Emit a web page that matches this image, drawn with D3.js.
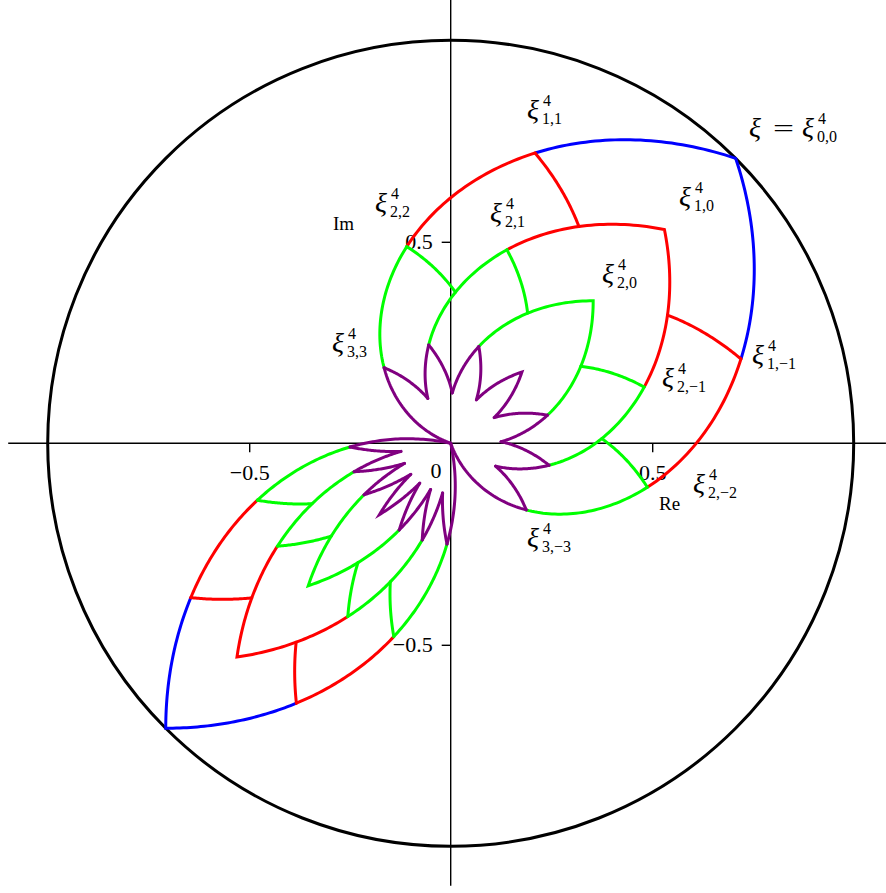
<!DOCTYPE html>
<html>
<head>
<meta charset="utf-8">
<script src="https://cdn.jsdelivr.net/npm/d3@7"></script>
<style>
  html, body { margin: 0; padding: 0; background: #fff; }
  svg { display: block; }
  text { font-family: "Liberation Serif", "DejaVu Serif", serif; fill: #000; }
</style>
</head>
<body>
<svg id="chart" width="886" height="893"></svg>
<script>
// ---------------- data ----------------
// modulus of the points on each level k = 0..4 (level 4 is the origin)
const levelRadii = [1, 0.75, 0.5, 0.25, 0];
// the two "flowers": direction of the lens tip (degrees) and angular step per index j
const flowerTips = [45, 225];
const flowerSteps = [28.8, 14.3];
// colours per level (blue, red, green, purple)
const levelColors = ["#0000ff", "#ff0000", "#00ff00", "#800080"];
// axis ticks
const xTicks = [-0.5, 0.5];
const yTicks = [-0.5, 0.5];
// point labels ξ^4_{k,j}
const labelSubs = ["1,1", "1,0", "1,\u22121", "2,2", "2,1", "2,0", "2,\u22121", "2,\u22122", "3,3", "3,\u22123"];
const labelSup = "4";

// ---------------- layout ----------------
const W = 886, H = 893;
const cx = 450.7, cy = 443.3, R = 403;
const x = d3.scaleLinear().domain([-1, 1]).range([cx - R, cx + R]);
const y = d3.scaleLinear().domain([-1, 1]).range([cy + R, cy - R]);

// label anchor boxes (left of ξ glyph, top of ξ glyph) in pixels
const labelPos = [
  [527, 100], [679, 187], [752, 345], [375, 193], [490, 203],
  [602, 264], [662, 368], [693, 474], [332, 333], [527, 528]
];

const svg = d3.select("#chart");
svg.append("rect").attr("width", W).attr("height", H).attr("fill", "#fff");

// axes lines
const gAx = svg.append("g");
gAx.append("line")
  .attr("x1", x(-1.098)).attr("x2", x(1.08))
  .attr("y1", y(0)).attr("y2", y(0))
  .attr("stroke", "#000").attr("stroke-width", 1.4);
gAx.append("line")
  .attr("x1", x(0)).attr("x2", x(0))
  .attr("y1", y(1.1)).attr("y2", y(-1.098))
  .attr("stroke", "#000").attr("stroke-width", 1.4);

const fmt = d => d3.format(".1f")(d);
const xAxis = svg.append("g")
  .attr("transform", `translate(0,${y(0)})`)
  .call(d3.axisBottom(x).tickValues(xTicks).tickSize(9).tickPadding(12).tickFormat(fmt));
const yAxis = svg.append("g")
  .attr("transform", `translate(${x(0)},0)`)
  .call(d3.axisLeft(y).tickValues(yTicks).tickSize(9).tickPadding(9).tickFormat(fmt));
[xAxis, yAxis].forEach(g => {
  g.select(".domain").remove();
  g.selectAll(".tick line").attr("stroke", "#000").attr("stroke-width", 1.4);
  g.selectAll(".tick text")
    .attr("font-family", "'Liberation Serif', serif")
    .attr("font-size", 22).attr("fill", "#000");
});
svg.append("text").attr("x", 436).attr("y", 478)
  .attr("text-anchor", "middle").attr("font-size", 22).text("0");

svg.append("text").attr("x", 333).attr("y", 230).attr("font-size", 19).text("Im");
svg.append("text").attr("x", 659).attr("y", 510).attr("font-size", 19).text("Re");

// unit circle
svg.append("circle")
  .attr("cx", x(0)).attr("cy", y(0)).attr("r", x(1) - x(0))
  .attr("fill", "none").attr("stroke", "#000").attr("stroke-width", 3);

// ---------------- curves ----------------
function radiusAt(s) {
  const i = Math.min(Math.floor(s), levelRadii.length - 2);
  const t = s - i;
  return levelRadii[i] * (1 - t) + levelRadii[i + 1] * t;
}
function pt(f, s, a) {
  const r = radiusAt(s);
  const th = (flowerTips[f] + flowerSteps[f] * a) * Math.PI / 180;
  return [r * Math.cos(th), r * Math.sin(th)];
}
// a path is a list of (s,a) nodes; each piece between nodes is a polar-linear curve
function sampleNodes(f, nodes) {
  const out = [];
  const N = 40;
  for (let n = 0; n < nodes.length - 1; n++) {
    const [s0, a0] = nodes[n], [s1, a1] = nodes[n + 1];
    for (let i = (n === 0 ? 0 : 1); i <= N; i++) {
      const t = i / N;
      out.push(pt(f, s0 + (s1 - s0) * t, a0 + (a1 - a0) * t));
    }
  }
  return out;
}
const line = d3.line().x(d => x(d[0])).y(d => y(d[1]));

const paths = [];
for (let f = 0; f < flowerTips.length; f++) {
  for (let m = 0; m < 4; m++) {
    // inner lenses stop half-way on the last (purple) level
    const sEnd = (m === 0) ? 4 : 3.5;
    const h = Math.min(1, sEnd - m);
    // the tip of lens m (two arcs meeting at a corner)
    paths.push({ f, level: m, nodes: [[m + h, h], [m, 0], [m + h, -h]], join: true });
    // the rest of the two sides of lens m
    for (let s = m + 1; s < 4; s++) {
      const e = Math.min(s + 1, sEnd);
      paths.push({ f, level: s, nodes: [[s, s - m], [e, e - m]] });
      paths.push({ f, level: s, nodes: [[s, -(s - m)], [e, -(e - m)]] });
    }
  }
  // short connectors from each point ξ_{k,j} (j ≠ 0) to the next lens inside
  for (let k = 1; k < 4; k++) {
    for (let j = -k; j <= k; j++) {
      if (j === 0) continue;
      const sg = Math.sign(j);
      paths.push({ f, level: k, nodes: [[k, j], [k + 0.5, j - sg * 0.5]] });
    }
  }
}

svg.append("g").selectAll("path")
  .data(paths)
  .join("path")
  .attr("d", d => line(sampleNodes(d.f, d.nodes)))
  .attr("fill", "none")
  .attr("stroke", d => levelColors[d.level])
  .attr("stroke-width", 3)
  .attr("stroke-linejoin", "miter")
  .attr("stroke-miterlimit", 20)
  .attr("stroke-linecap", d => d.join ? "butt" : "round");

// ---------------- labels ----------------
const mainFs = 28, smallFs = 16;
function xiLabel(g, left, top, sub) {
  g.append("text").attr("x", left).attr("y", top + 19)
    .attr("font-size", mainFs).attr("font-style", "italic").text("\u03be");
  g.append("text").attr("x", left + 16).attr("y", top + 6)
    .attr("font-size", smallFs).text(labelSup);
  g.append("text").attr("x", left + 15).attr("y", top + 24)
    .attr("font-size", smallFs).text(sub);
}
const gl = svg.append("g");
labelSubs.forEach((s, i) => xiLabel(gl, labelPos[i][0], labelPos[i][1], s));
// ξ = ξ^4_{0,0}
gl.append("text").attr("x", 749).attr("y", 137)
  .attr("font-size", mainFs).attr("font-style", "italic").text("\u03be");
gl.append("text").attr("x", 773).attr("y", 137)
  .attr("font-size", 26).attr("textLength", 21).attr("lengthAdjust", "spacingAndGlyphs").text("=");
xiLabel(gl, 802, 118, "0,0");
</script>
</body>
</html>
